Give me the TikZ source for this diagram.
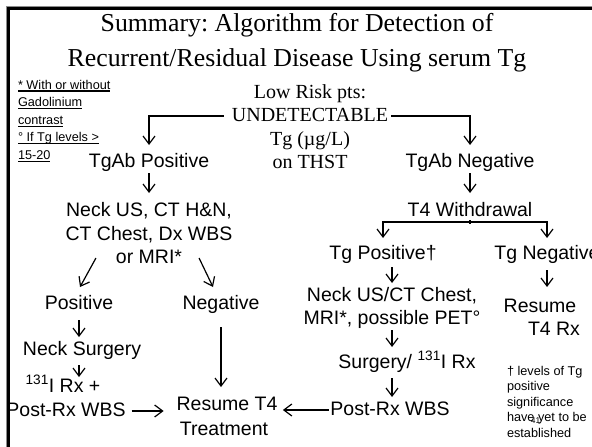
\documentclass[tikz,border=0pt]{standalone}
\usepackage{fontspec}
\setmainfont{Liberation Sans}
\newfontfamily\timesface{Liberation Serif}
\usetikzlibrary{arrows.meta,calc}
% underline drawn as a fixed rule under the text
\newcommand\notebar[1]{\setbox0\hbox{#1}\rlap{\rule[-2.6pt]{\wd0}{1.2pt}}\box0}
\frenchspacing
\begin{document}
\begin{tikzpicture}[x=1pt,y=-1pt,
  every node/.style={inner sep=0pt,outer sep=0pt},
  ttl/.style={font=\timesface\fontsize{25.8}{30}\selectfont,anchor=base},
  mid/.style={font=\timesface\fontsize{20}{23}\selectfont,anchor=base,text height=14pt,text depth=4pt},
  body/.style={font=\fontsize{19.5}{23}\selectfont,anchor=base,text height=14pt,text depth=4pt},
  note/.style={font=\fontsize{12.7}{15}\selectfont,anchor=base west},
  flow/.style={line width=1.2pt,-{Straight Barb[length=8pt,width=12pt]}},
  link/.style={line width=1.2pt}]
\useasboundingbox (0,0) rectangle (592,447);
\clip (0,0) rectangle (592,447);
\fill[white] (0,0) rectangle (592,447);

% slide frame
\draw[black!45,line width=1.3pt] (592,6.6) -- (6.6,6.6) -- (6.6,447);
\draw[line width=3pt] (592,8.8) -- (8.7,8.8) -- (8.7,447);

% title
\node[ttl] (title1) at (297,31) {Summary: Algorithm for Detection of};
\node[ttl] (title2) at (297,66) {Recurrent/Residual Disease Using serum Tg};

% starting condition
\node[mid] (risk)   at (310,98)  {Low Risk pts:};
\node[mid] (undet)  at (310,121) {UNDETECTABLE};
\node[mid] (tgunit) at (310,145) {Tg (µg/L)};
\node[mid] (thst)   at (310,168) {on THST};

% antibody-positive branch
\node[body] (tgabpos) at (149,167) {TgAb Positive};
\node[body] (neckA)   at (149,216) {Neck US, CT H\&N,};
\node[body] (neckB)   at (149,240) {CT Chest, Dx WBS};
\node[body] (neckC)   at (149,263) {or MRI*};
\node[body] (pos)     at (79,309)  {Positive};
\node[body] (neg)     at (221,309) {Negative};
\node[body] (surg)    at (82,355)  {Neck Surgery};
\node[body] (iodA)    at (63,392)  {\textsuperscript{131}I Rx +};
\node[body] (iodB)    at (66,416)  {Post-Rx WBS};
\node[body] (resA)    at (227,410) {Resume T4};
\node[body] (resB)    at (224,435) {Treatment};

% antibody-negative branch
\node[body] (tgabneg) at (470,167) {TgAb Negative};
\node[body] (wd)      at (470,216) {T4 Withdrawal};
\node[body] (tgpos)   at (383,259) {Tg Positive†};
\node[body] (tgneg)   at (547,259) {Tg Negative};
\node[body] (usA)     at (392,301) {Neck US/CT Chest,};
\node[body] (usB)     at (392,324) {MRI*, possible PET°};
\node[body] (surg2)   at (407,368) {Surgery/ \textsuperscript{131}I Rx};
\node[body] (post)    at (390,415) {Post-Rx WBS};
\node[body] (resume)  at (540,312) {Resume};
\node[body] (t4rx)    at (554,335) {T4 Rx};

% footnotes
\foreach \txt [count=\i] in {* With or without,Gadolinium,contrast,° If Tg levels >,15-20}
  \node[note] (lnote\i) at (18,{89+(\i-1)*17.6}) {\notebar{\txt}};
\foreach \txt [count=\i] in {† levels of Tg,positive,significance,have yet to be,established}
  \node[note] (rnote\i) at (507,{375+(\i-1)*15.5}) {\txt};
\node[font=\fontsize{8.4}{9}\selectfont,anchor=base] (pageno) at (535.5,423) {41};

% connectors
\draw[flow,shorten <=8pt,shorten >=8pt] (undet.west) -| (tgabpos.north);
\draw[flow,shorten <=3pt,shorten >=8pt] (undet.east) -| (tgabneg.north);

\draw[flow,shorten <=2pt,shorten >=9pt] (tgabpos.south) -- (neckA.north);
\draw[flow] ($(neckC.west)+(-20,0)$) -- ($(pos.north)+(1,-8)$);
\draw[flow] ($(neckC.east)+(17,0)$) -- ($(neg.north)+(-8,-8)$);
\draw[flow,shorten <=7pt,shorten >=4pt] (pos.south) -- (pos.south |- surg.north);
\draw[flow,shorten <=6pt,shorten >=1pt] (pos.south |- surg.south) -- (pos.south |- iodA.north);
\draw[flow,shorten <=6pt,shorten >=13pt] (iodB.east) -- (iodB.east -| resA.west);
\draw[flow,shorten <=14pt,shorten >=9pt] (neg.south) -- (neg.south |- resA.north);

\draw[flow,shorten <=2pt,shorten >=9pt] (tgabneg.south) -- (wd.north);
\draw[link] (wd.south) -- ++(0,4);
\draw[flow,shorten >=7pt] ($(wd.south)+(0,2)$) -| (tgpos.north);
\draw[flow,shorten >=7pt] ($(wd.south)+(0,2)$) -| (tgneg.north);
\draw[flow,shorten <=4pt,shorten >=4pt] (tgpos.south -| usA.south) -- (usA.north);
\draw[flow,shorten <=2pt,shorten >=7pt] (usB.south) -- (usB.south |- surg2.north);
\draw[flow,shorten <=6pt,shorten >=4pt] (usB.south |- surg2.south) -- (usB.south |- post.north);
\draw[flow,shorten <=7pt,shorten >=11pt] (tgneg.south) -- (tgneg.south |- resume.north);
\draw[flow,shorten <=1.5pt,shorten >=5.5pt] (post.west) -- (post.west -| resA.east);
\end{tikzpicture}
\end{document}
